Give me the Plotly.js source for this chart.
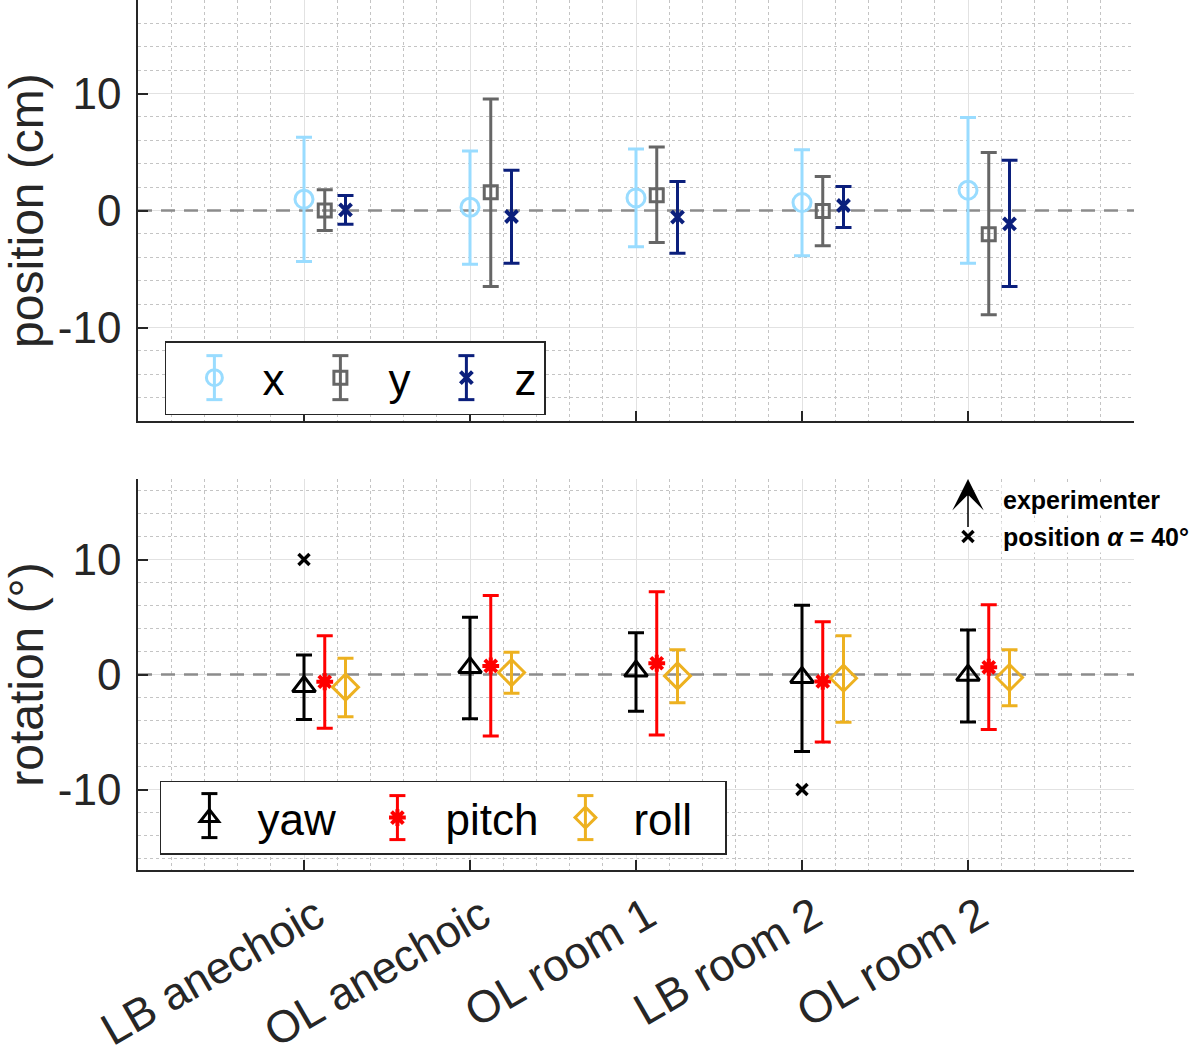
<!DOCTYPE html>
<html><head><meta charset="utf-8">
<script src="https://cdn.plot.ly/plotly-3.0.1.min.js"></script>
<style>html,body{margin:0;padding:0;background:#fff}</style>
</head><body><div id="chart" style="width:1200px;height:1059px"></div>
<script>
const categories = ['LB anechoic','OL anechoic','OL room 1','LB room 2','OL room 2'];
const catPos = [1, 2, 3, 4, 5];
const xRange = [0, 6];
const zeroLevel = 0;

// position (cm): mean and upper/lower ends of error bars
const posX   = [0.97, 0.28, 1.08, 0.68, 1.74];
const posXUp = [6.27, 5.10, 5.27, 5.19, 7.95];
const posXLo = [-4.36, -4.59, -3.10, -3.87, -4.50];
const posY   = [0.00, 1.57, 1.31, -0.03, -2.02];
const posYUp = [1.77, 9.54, 5.44, 2.90, 4.96];
const posYLo = [-1.71, -6.50, -2.74, -3.02, -8.92];
const posZ   = [0.05, -0.51, -0.57, 0.43, -1.14];
const posZUp = [1.28, 3.45, 2.48, 2.05, 4.30];
const posZLo = [-1.17, -4.50, -3.65, -1.45, -6.50];

// rotation (deg)
const yaw     = [-1.05, 0.60, 0.30, -0.25, -0.06];
const yawUp   = [1.70, 4.99, 3.64, 6.03, 3.87];
const yawLo   = [-3.92, -3.84, -3.20, -6.70, -4.13];
const pitch   = [-0.63, 0.75, 0.98, -0.60, 0.63];
const pitchUp = [3.38, 6.87, 7.19, 4.59, 6.06];
const pitchLo = [-4.68, -5.34, -5.25, -5.86, -4.79];
const roll    = [-1.10, 0.17, -0.12, -0.32, -0.26];
const rollUp  = [1.41, 1.93, 2.16, 3.38, 2.16];
const rollLo  = [-3.67, -1.62, -2.45, -4.16, -2.71];

// experimenter position markers
const outX = [1, 4];
const outY = [10, -10];
const keyX = [5];
const keyY = [12];

const yTickVals = [-10, 0, 10];
const yTickText = ['-10', '0', '10'];

const offsets = [0, 0.125, 0.25];
const FONT = 'Liberation Sans, Arial, Helvetica, sans-serif';
const AX = '#262626';

function series(vals, up, lo, k, name, color, symbol, size, lw, xa, ya, leg) {
  return {
    type: 'scatter', mode: 'markers', name: name,
    x: catPos.map(c => c + offsets[k]), y: vals,
    xaxis: xa, yaxis: ya, legend: leg,
    marker: {symbol: symbol, size: size, color: color, line: {color: color, width: lw}},
    error_y: {type: 'data', symmetric: false,
      array: up.map((u, i) => u - vals[i]),
      arrayminus: lo.map((l, i) => vals[i] - l),
      color: color, thickness: 3, width: 8},
    hoverinfo: 'x+y'
  };
}
function zeroLine(xa, ya) {
  return {type: 'scatter', mode: 'lines', x: xRange, y: xRange.map(() => zeroLevel),
    xaxis: xa, yaxis: ya, showlegend: false, hoverinfo: 'skip', cliponaxis: true,
    line: {color: '#8c8c8c', width: 2.5, dash: '14px,9px'}};
}

const traces = [
  zeroLine('x', 'y'),
  zeroLine('x2', 'y2'),
  series(posX, posXUp, posXLo, 0, 'x', '#99dcff', 'circle-open', 18, 3, 'x', 'y', 'legend'),
  series(posY, posYUp, posYLo, 1, 'y', '#666666', 'square-open', 13, 3, 'x', 'y', 'legend'),
  series(posZ, posZUp, posZLo, 2, 'z', '#0b1f7c', 'x-thin-open', 12, 4, 'x', 'y', 'legend'),
  series(yaw, yawUp, yawLo, 0, 'yaw', '#000000', 'triangle-up-open', 20, 3, 'x2', 'y2', 'legend2'),
  series(pitch, pitchUp, pitchLo, 1, 'pitch', '#ff0000', 'asterisk-open', 14, 4, 'x2', 'y2', 'legend2'),
  series(roll, rollUp, rollLo, 2, 'roll', '#edb120', 'diamond-open', 20, 3, 'x2', 'y2', 'legend2'),
  {type: 'scatter', mode: 'markers', x: outX, y: outY, xaxis: 'x2', yaxis: 'y2', showlegend: false,
   marker: {symbol: 'x-thin-open', size: 11, color: '#000', line: {color: '#000', width: 3.5}}},
  {type: 'scatter', mode: 'markers', x: keyX, y: keyY, xaxis: 'x2', yaxis: 'y2', showlegend: false,
   marker: {symbol: 'x-thin-open', size: 11, color: '#000', line: {color: '#000', width: 3.5}}}
];

function xAxis(anchor, labels) {
  return {
    anchor: anchor, domain: [0, 1], range: xRange,
    tickvals: catPos, ticktext: categories, showticklabels: labels,
    tickangle: -30, tickfont: {family: FONT, size: 45, color: AX},
    ticklabelshift: 12, ticklabelstandoff: 0,
    ticks: 'inside', ticklen: 10, tickwidth: 1.5, tickcolor: AX,
    showline: true, linecolor: AX, linewidth: 1.5, mirror: false,
    showgrid: true, gridcolor: '#e2e2e2', gridwidth: 1, zeroline: false,
    minor: {tick0: 0, dtick: 0.2, showgrid: true, gridcolor: '#c4c4c4', griddash: 'dot', gridwidth: 1, ticks: ''}
  };
}
function yAxis(anchor, domain, range, title) {
  return {
    anchor: anchor, domain: domain, range: range,
    tickvals: yTickVals, ticktext: yTickText,
    tickfont: {family: FONT, size: 44, color: AX},
    ticks: 'inside', ticklen: 10, tickwidth: 1.5, tickcolor: AX, ticklabelstandoff: 6,
    showline: true, linecolor: AX, linewidth: 1.5,
    showgrid: true, gridcolor: '#e2e2e2', gridwidth: 1, zeroline: false,
    minor: {tick0: 0, dtick: 2, showgrid: true, gridcolor: '#c4c4c4', griddash: 'dot', gridwidth: 1, ticks: ''},
    title: {text: title, font: {family: FONT, size: 48, color: AX}, standoff: 1}
  };
}

const legendStyle = (x, y, ew) => ({
  x: x, y: y, xanchor: 'left', yanchor: 'top', orientation: 'h',
  bgcolor: 'rgba(255,255,255,0)', bordercolor: AX, borderwidth: 1.5,
  itemwidth: 86, entrywidthmode: 'pixels', entrywidth: ew,
  font: {family: FONT, size: 44, color: '#000'}
});

const layout = {
  width: 1200, height: 1059,
  margin: {l: 138, r: 66, t: 0, b: 189},
  paper_bgcolor: '#fff', plot_bgcolor: '#fff',
  showlegend: true,
  xaxis: xAxis('y', false),
  yaxis: yAxis('x', [0.516, 1], [-18, 18], 'position (cm)'),
  xaxis2: xAxis('y2', true),
  yaxis2: yAxis('x2', [0, 0.4494], [-17, 17], 'rotation (°)'),
  legend: legendStyle(0.027, 0.608, 25),
  legend2: legendStyle(0.022, 0.1023, 87),
  shapes: [],
  annotations: [
    {xref: 'x2', yref: 'y2', x: 5, y: 17, ax: 5, ay: 12.7, axref: 'x2', ayref: 'y2',
     text: '', showarrow: true, arrowhead: 3, arrowsize: 3.5, arrowwidth: 1.5, arrowcolor: '#000'},
    {xref: 'x2', yref: 'y2', x: 5.2, y: 15.2, xanchor: 'left', yanchor: 'middle', showarrow: false,
     text: '<b>experimenter</b>', font: {family: FONT, size: 25, color: '#000'}},
    {xref: 'x2', yref: 'y2', x: 5.2, y: 12.0, xanchor: 'left', yanchor: 'middle', showarrow: false,
     text: '<b>position <i>α</i> = 40°</b>', font: {family: FONT, size: 25, color: '#000'}}
  ]
};

function addLegendWhiskers(gd) {
  const svg = gd.querySelector('.main-svg').getBoundingClientRect();
  const m = layout.margin;
  const W = layout.width - m.l - m.r, H = layout.height - m.t - m.b;
  const px = x => (x - svg.left - m.l) / W;
  const py = y => (H - (y - svg.top - m.t)) / H;
  const extra = [];
  gd.querySelectorAll('.infolayer rect.bg').forEach(function (r) {
    const b = r.getBoundingClientRect();
    extra.push({type: 'rect', xref: 'paper', yref: 'paper', layer: 'above',
      x0: px(b.left), x1: px(b.right), y0: py(b.bottom), y1: py(b.top),
      fillcolor: '#ffffff', line: {width: 0}});
  });
  gd.querySelectorAll('.infolayer g.traces').forEach(function (g) {
    const d = g.__data__ && g.__data__[0];
    const pts = g.querySelector('.legendpoints');
    if (!d || !pts || !d.trace || !d.trace.error_y) return;
    const b = pts.getBoundingClientRect();
    const cx = (b.left + b.right) / 2, cy = (b.top + b.bottom) / 2;
    const ln = {color: d.trace.error_y.color, width: 3};
    const seg = (x0, y0, x1, y1) => extra.push({type: 'line', xref: 'paper', yref: 'paper', layer: 'above',
      x0: px(x0), x1: px(x1), y0: py(y0), y1: py(y1), line: ln});
    seg(cx, cy - 22, cx, cy + 22);
    seg(cx - 8, cy - 22, cx + 8, cy - 22);
    seg(cx - 8, cy + 22, cx + 8, cy + 22);
  });
  return Plotly.relayout(gd, {shapes: extra});
}

Plotly.newPlot('chart', traces, layout, {displayModeBar: false})
  .then(addLegendWhiskers)
  .catch(function (e) { console.log(e); });
</script>
</body></html>
